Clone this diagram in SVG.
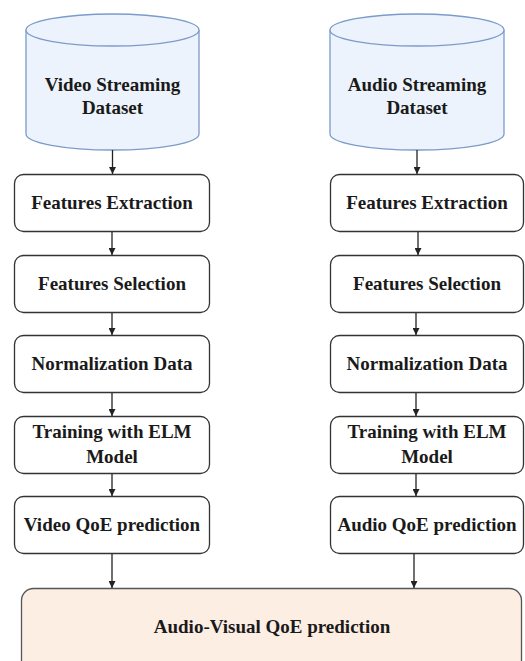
<svg xmlns="http://www.w3.org/2000/svg" width="525" height="661" viewBox="0 0 525 661">
<defs>
<style>
.box{fill:#ffffff;stroke:#333333;stroke-width:1.3}
.cyl{fill:#edf3fc;stroke:#7b9bcb;stroke-width:1.3}
.out{fill:#fdeee3;stroke:#555555;stroke-width:1.3}
text{font-family:'Liberation Serif','Times New Roman','DejaVu Serif',serif;font-weight:bold;font-size:19px;fill:#1a1a1a;text-anchor:middle}
.c{stroke:#222222;stroke-width:1.3;fill:none;marker-end:url(#ah)}
</style>
<marker id="ah" viewBox="0 0 10 10" refX="10" refY="5" markerWidth="7" markerHeight="7" markerUnits="userSpaceOnUse" orient="auto">
<path d="M0,0 L10,5 L0,10 Z" fill="#222222"/>
</marker>
</defs>
<rect width="525" height="661" fill="#ffffff"/>

<g id="video-dataset">
<path class="cyl" d="M26,30 A86.5,16 0 0 1 199,30 L199,134 A86.5,16 0 0 1 26,134 Z"/>
<path class="cyl" d="M26,30 A86.5,16 0 0 0 199,30" fill="none"/>
<text x="112.5" y="91" font-family="Liberation Serif, serif">Video Streaming</text>
<text x="112.5" y="114" font-family="Liberation Serif, serif">Dataset</text>
</g>
<g id="audio-dataset">
<path class="cyl" d="M330,30 A87,16 0 0 1 504,30 L504,134 A87,16 0 0 1 330,134 Z"/>
<path class="cyl" d="M330,30 A87,16 0 0 0 504,30" fill="none"/>
<text x="417" y="91" font-family="Liberation Serif, serif">Audio Streaming</text>
<text x="417" y="114" font-family="Liberation Serif, serif">Dataset</text>
</g>

<g id="v-extract"><rect class="box" x="14.5" y="174.5" width="195" height="57" rx="9"/><text x="112" y="209">Features Extraction</text></g>
<g id="v-select"><rect class="box" x="14.5" y="255.5" width="195" height="57" rx="9"/><text x="112" y="290">Features Selection</text></g>
<g id="v-norm"><rect class="box" x="14.5" y="335.5" width="195" height="57" rx="9"/><text x="112" y="370">Normalization Data</text></g>
<g id="v-train"><rect class="box" x="14.5" y="416.5" width="195" height="57" rx="9"/><text x="112" y="438">Training with ELM</text><text x="112" y="463">Model</text></g>
<g id="v-pred"><rect class="box" x="14.5" y="496.5" width="195" height="57" rx="9"/><text x="112" y="531">Video QoE prediction</text></g>

<g id="a-extract"><rect class="box" x="330.5" y="174.5" width="193" height="57" rx="9"/><text x="427" y="209">Features Extraction</text></g>
<g id="a-select"><rect class="box" x="330.5" y="255.5" width="193" height="57" rx="9"/><text x="427" y="290">Features Selection</text></g>
<g id="a-norm"><rect class="box" x="330.5" y="335.5" width="193" height="57" rx="9"/><text x="427" y="370">Normalization Data</text></g>
<g id="a-train"><rect class="box" x="330.5" y="416.5" width="193" height="57" rx="9"/><text x="427" y="438">Training with ELM</text><text x="427" y="463">Model</text></g>
<g id="a-pred"><rect class="box" x="330.5" y="496.5" width="193" height="57" rx="9"/><text x="427" y="531">Audio QoE prediction</text></g>

<g id="av-pred"><rect class="out" x="21.5" y="588.5" width="500" height="90" rx="12"/><text x="272" y="633">Audio-Visual QoE prediction</text></g>

<g id="connectors">
<line class="c" x1="112.5" y1="150" x2="112.5" y2="174"/>
<line class="c" x1="112" y1="232" x2="112" y2="255"/>
<line class="c" x1="112" y1="313" x2="112" y2="335"/>
<line class="c" x1="112" y1="393" x2="112" y2="416"/>
<line class="c" x1="112" y1="474" x2="112" y2="496"/>
<line class="c" x1="112" y1="554" x2="112" y2="588"/>
<line class="c" x1="417" y1="150" x2="417" y2="174"/>
<line class="c" x1="418" y1="232" x2="418" y2="255"/>
<line class="c" x1="416" y1="313" x2="416" y2="335"/>
<line class="c" x1="416" y1="393" x2="416" y2="416"/>
<line class="c" x1="416" y1="474" x2="416" y2="496"/>
<line class="c" x1="414" y1="554" x2="414" y2="588"/>
</g>
</svg>
